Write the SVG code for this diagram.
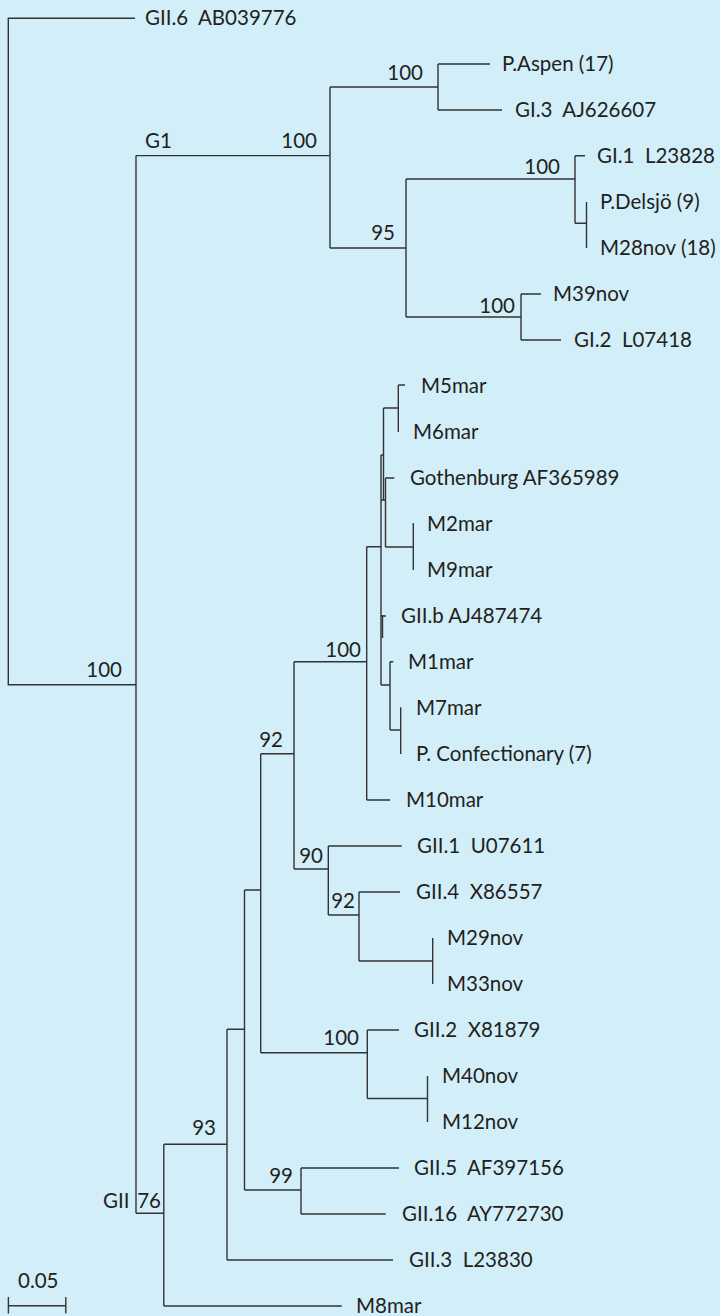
<svg xmlns="http://www.w3.org/2000/svg" width="720" height="1316" viewBox="0 0 720 1316">
<style>
.t{font-family:Lato,"Open Sans",sans-serif;font-size:20.5px;fill:#231f20;white-space:pre}
.b{font-family:Lato,"Open Sans",sans-serif;font-size:20.5px;fill:#231f20;text-anchor:end}
.e{fill:none;stroke:#333;stroke-width:1.4}
</style>
<rect width="720" height="1316" fill="#d2eef9"/>
<g id="connectors" class="e">
<path d="M135,18.3 H8.3 V684.7 H136"/>
<path d="M136,155.6 V1213.3"/>
<path d="M136,155.6 H330 M330,87 V248 M330,87 H438 M438,64 V110 M438,64 H490 M438,110 H502"/>
<path d="M330,248 H406 M406,179 V317 M406,179 H575 M575,155.7 V223.3 M575,155.7 H585 M575,223.3 H586.5 M586.5,202 V248"/>
<path d="M406,317 H521 M521,294 V340 M521,294 H541 M521,340 H561"/>
<path d="M136,1213.3 H163.8 M163.8,1144.3 V1306 M163.8,1306 H341.7"/>
<path d="M163.8,1144.3 H227 M227,1029.3 V1260 M227,1260 H393"/>
<path d="M227,1029.3 H244.5 M244.5,890 V1190 M244.5,1190 H301 M301,1168 V1214 M301,1168 H399 M301,1214 H385.7"/>
<path d="M244.5,890 H260.7 M260.7,753.7 V1052.7"/>
<path d="M260.7,1052.7 H367.3 M367.3,1030 V1098.5 M367.3,1030 H399 M367.3,1098.5 H427.5 M427.5,1076 V1122"/>
<path d="M260.7,753.7 H294 M294,661.7 V869 M294,869 H328.3 M328.3,846 V915 M328.3,846 H401.7"/>
<path d="M328.3,915 H359 M359,892 V961 M359,892 H400 M359,961 H432.7 M432.7,938 V984"/>
<path d="M294,661.7 H366.7 M366.7,546.7 V800 M366.7,800 H390"/>
<path d="M366.7,546.7 H381 M381,455 V685 M381,455 H383.5 M383.5,408 V500 M383.5,408 H398.3 M398.3,385 V432 M398.3,385 H405"/>
<path d="M381,500 H385.5 M385.5,478 V547 M385.5,478 H394.3 M385.5,547 H413.3 M413.3,523 V570"/>
<path d="M382.5,615 V638 M381,616 H386"/>
<path d="M381,685 H390 M390,661.7 V730 M390,661.7 H393.3 M390,730 H400.7 M400.7,707.3 V754"/>
<path d="M8.4,1305.7 H65.8 M8.4,1297 V1313.5 M65.8,1297 V1313.5"/>
</g>
<g id="leaves" xml:space="preserve">
<text id="n1" class="t" x="145" y="25">GII.6  AB039776</text>
<text id="n2" class="t" x="502" y="71">P.Aspen (17)</text>
<text id="n3" class="t" x="515" y="117">GI.3  AJ626607</text>
<text id="n4" class="t" x="597" y="163">GI.1  L23828</text>
<text id="n5" class="t" x="600" y="209">P.Delsjö (9)</text>
<text id="n6" class="t" x="600" y="255">M28nov (18)</text>
<text id="n7" class="t" x="553" y="301">M39nov</text>
<text id="n8" class="t" x="574" y="347">GI.2  L07418</text>
<text id="n9" class="t" x="421" y="393">M5mar</text>
<text id="n10" class="t" x="413" y="439">M6mar</text>
<text id="n11" class="t" x="410" y="485">Gothenburg AF365989</text>
<text id="n12" class="t" x="427" y="531">M2mar</text>
<text id="n13" class="t" x="427" y="577">M9mar</text>
<text id="n14" class="t" x="401" y="623">GII.b AJ487474</text>
<text id="n15" class="t" x="408" y="669">M1mar</text>
<text id="n16" class="t" x="416" y="715">M7mar</text>
<text id="n17" class="t" x="416" y="761">P. Confectionary (7)</text>
<text id="n18" class="t" x="406" y="807">M10mar</text>
<text id="n19" class="t" x="417" y="853">GII.1  U07611</text>
<text id="n20" class="t" x="416" y="899">GII.4  X86557</text>
<text id="n21" class="t" x="447" y="945">M29nov</text>
<text id="n22" class="t" x="447" y="991">M33nov</text>
<text id="n23" class="t" x="414" y="1037">GII.2  X81879</text>
<text id="n24" class="t" x="442" y="1083">M40nov</text>
<text id="n25" class="t" x="442" y="1129">M12nov</text>
<text id="n26" class="t" x="414" y="1175">GII.5  AF397156</text>
<text id="n27" class="t" x="402" y="1221">GII.16  AY772730</text>
<text id="n28" class="t" x="409" y="1267">GII.3  L23830</text>
<text id="n29" class="t" x="356" y="1313">M8mar</text>
</g>
<g id="support">
<text class="b" x="122" y="677">100</text>
<text class="t" x="145" y="148">G1</text>
<text class="b" x="317" y="148">100</text>
<text class="b" x="423" y="80">100</text>
<text class="b" x="395" y="240">95</text>
<text class="b" x="560" y="174">100</text>
<text class="b" x="515" y="313">100</text>
<text class="b" x="361" y="657">100</text>
<text class="b" x="283" y="747">92</text>
<text class="b" x="323" y="863">90</text>
<text class="b" x="355" y="908">92</text>
<text class="b" x="359" y="1045">100</text>
<text class="b" x="216" y="1135">93</text>
<text class="b" x="293" y="1183">99</text>
<text class="t" x="103" y="1208">GII</text>
<text class="b" x="161" y="1208">76</text>
<text class="t" x="18" y="1288">0.05</text>
</g>
</svg>
